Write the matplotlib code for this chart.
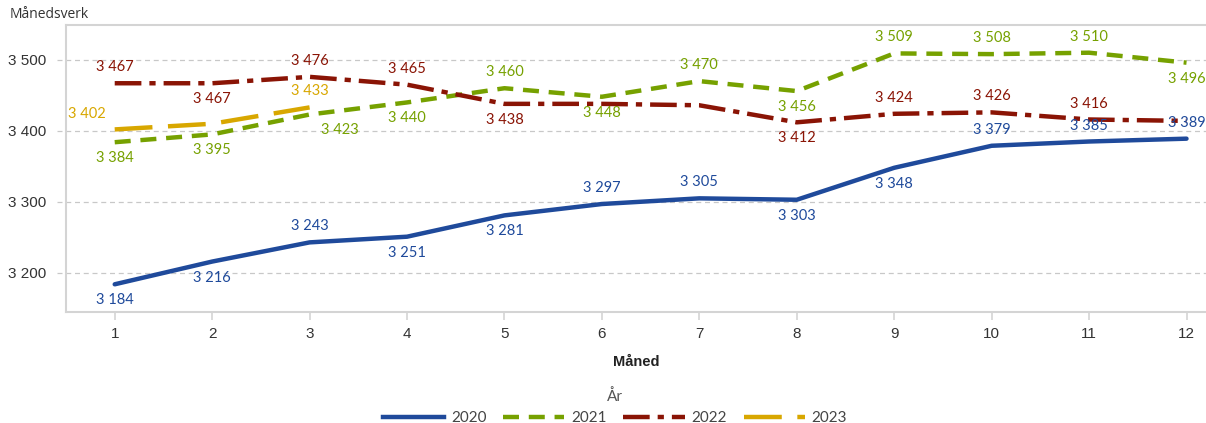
import matplotlib
matplotlib.use("Agg")
import matplotlib.pyplot as plt
import matplotlib.transforms as mtransforms
from matplotlib.lines import Line2D

months = [1, 2, 3, 4, 5, 6, 7, 8, 9, 10, 11, 12]
years = ["2020", "2021", "2022", "2023"]

v2020 = [3184, 3216, 3243, 3251, 3281, 3297, 3305, 3303, 3348, 3379, 3385, 3389]
v2021 = [3384, 3395, 3423, 3440, 3460, 3448, 3470, 3456, 3509, 3508, 3510, 3496]
v2022 = [3467, 3467, 3476, 3465, 3438, 3438, 3436, 3412, 3424, 3426, 3416, 3414]
v2023 = [3402, 3410, 3433]

# label placement: 'a' above, 'b' below, 'l' left-above, None = not shown
pos2020 = ['b', 'b', 'a', 'b', 'b', 'a', 'a', 'b', 'b', 'a', 'a', 'a']
pos2021 = ['b', 'b', 'b', 'b', 'a', 'b', 'a', 'b', 'a', 'a', 'a', 'b']
pos2022 = ['a', 'b', 'a', 'a', 'b', None, None, 'b', 'a', 'a', 'a', None]
pos2023 = ['l', None, 'a']

yticks = [3200, 3300, 3400, 3500]
ytick_labels = ["3 200", "3 300", "3 400", "3 500"]

colors = {"2020": "#1f4a9b", "2021": "#76a100", "2022": "#8a1405", "2023": "#d8a700"}
styles = {
    "2020": "-",
    "2021": (0, (3.6, 2.2)),
    "2022": (0, (6.0, 1.8, 1.4, 1.8)),
    "2023": (0, (8.5, 3.5)),
}
series = [("2020", v2020, pos2020), ("2021", v2021, pos2021),
          ("2022", v2022, pos2022), ("2023", v2023, pos2023)]

label_font = "Lato"
fig = plt.figure(figsize=(12.06, 4.23), dpi=100)
ax = fig.add_axes([66 / 1206, 1 - 312 / 423, 1 - 66 / 1206, (312 - 25) / 423])
ax.set_xlim(0.5, 12.2)
ax.set_ylim(3145, 3549)

frame_c = "#d4d4d4"
for s in ["left", "top", "bottom"]:
    ax.spines[s].set_color(frame_c)
    ax.spines[s].set_linewidth(1.5)
ax.spines["right"].set_visible(False)

# grid lines (extend slightly left of the frame)
trans = mtransforms.blended_transform_factory(ax.transAxes, ax.transData)
for yt in yticks:
    ax.plot([-0.008, 1.0], [yt, yt], transform=trans, color="#c8c8c8",
            lw=0.9, ls=(0, (4, 3)), clip_on=False, zorder=0)

ax.set_yticks(yticks)
ax.set_yticklabels(ytick_labels, fontsize=11, color="#333333", family="Liberation Sans")
ax.tick_params(axis="y", length=0, pad=14)
ax.set_xticks(months)
ax.set_xticklabels([str(m) for m in months], fontsize=11, color="#333333",
                   family="Liberation Sans")
ax.tick_params(axis="x", length=6, color=frame_c, width=1.2, pad=5)

for yr, vals, pos in series:
    xs = months[:len(vals)]
    ax.plot(xs, vals, color=colors[yr], lw=3.2, ls=styles[yr],
            solid_capstyle="round", dash_capstyle="butt", zorder=3)
    for x, v, p in zip(xs, vals, pos):
        if p is None:
            continue
        txt = f"{v // 1000} {v % 1000:03d}"
        if p == 'a':
            dx, dy = 0, 11.5
        elif p == 'b':
            dx, dy = 0, -11.5
        else:
            dx, dy = -20, 11
        if yr == "2021" and x == 3:
            dx = 22
        ax.annotate(txt, (x, v), xytext=(dx, dy), textcoords="offset points",
                    ha="center", va="center", fontsize=10.5, color=colors[yr],
                    family=label_font, zorder=4, annotation_clip=False)

fig.text(10 / 1206, 1 - 14 / 423, "Månedsverk", fontsize=10, color="#333333",
         family="Open Sans", va="center", ha="left")
fig.text(636 / 1206, 1 - 362 / 423, "Måned", fontsize=10.5, color="#222222",
         family="Liberation Sans", fontweight="bold", va="center", ha="center")

handles = [Line2D([0], [0], color=colors[y], lw=3.2, ls=styles[y]) for y in years]
leg = fig.legend(handles, years, loc="center", bbox_to_anchor=(615 / 1206, 1 - 407 / 423),
                 ncol=4, frameon=False, title="År", handlelength=4.0,
                 columnspacing=1.1, handletextpad=0.45, borderpad=0.2,
                 prop={"family": "Lato", "size": 11})
leg.get_title().set_fontsize(11)
leg.get_title().set_color("#555555")
leg.get_title().set_family("Lato")
for t in leg.get_texts():
    t.set_color("#444444")

fig.savefig("out.png", dpi=100)
